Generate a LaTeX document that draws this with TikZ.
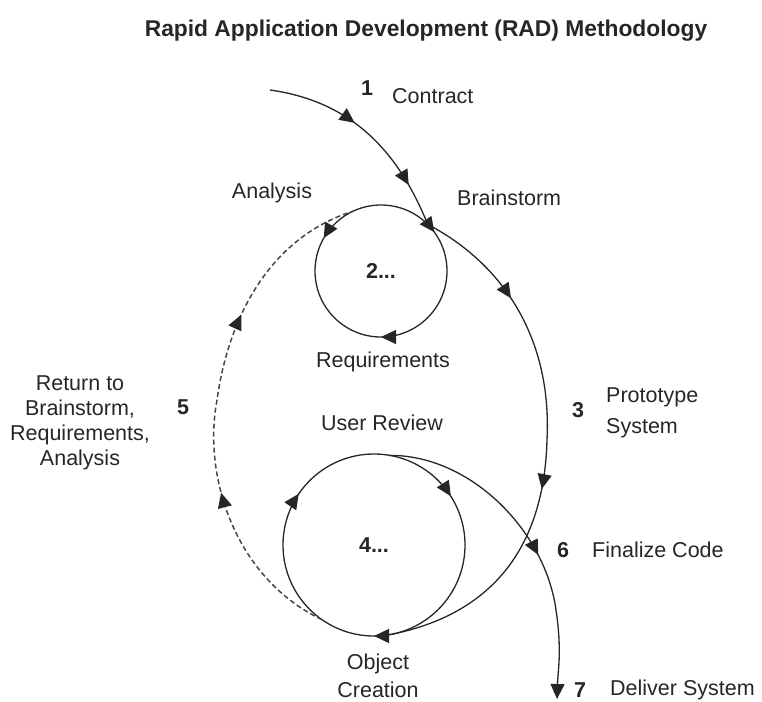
\documentclass[tikz,border=0pt]{standalone}
\usepackage{fontspec}
\setmainfont{Liberation Sans}
\usetikzlibrary{arrows.meta,decorations.markings}

\tikzset{
  flowtip/.tip={Triangle[length=15pt,width=14pt]},
  flow/.style={line width=1.3pt, draw=black!85},
  back/.style={flow, line width=1.5pt, draw=black!72, dash pattern=on 5pt off 3pt},
  fwd/.style={postaction={decorate, decoration={markings,
      mark=at position #1 with {\arrow[black!85]{flowtip}}}}},
  rev/.style={postaction={decorate, decoration={markings,
      mark=at position #1 with {\arrowreversed[black!85]{flowtip}}}}},
  lbl/.style={font=\fontsize{21.5}{25}\selectfont, text=black!85, inner sep=0pt},
  num/.style={lbl, font=\bfseries\fontsize{21.5}{25}\selectfont},
  ring/.style={circle, inner sep=0pt, outer sep=0pt},
}

\begin{document}
\begin{tikzpicture}[x=1pt, y=1pt]
  \useasboundingbox (0,0) rectangle (762,-701);
  \node[lbl, font=\bfseries\fontsize{22.8}{26}\selectfont] (title) at (426,-31)
    {Rapid Application Development (RAD) Methodology};

  % the two cycles
  \node[ring, minimum size=132pt, num] (req) at (381,-271) {2...};
  \node[ring, minimum size=182pt, num] (obj) at (374,-545) {4...};
  \draw[flow, rev=0.1, fwd=0.417, rev=0.75] (req.center) circle[radius=66pt];
  \draw[flow, rev=0.09, rev=0.405, rev=0.75] (obj.center) circle[radius=91pt];

  % connectors
  \coordinate (entry) at (270,-90);
  \coordinate (deliver) at (557,-699);
  \draw[flow, fwd=0.42, fwd=0.8] (entry) to[out=-8, in=112] (req.45);
  \draw[flow, fwd=0.21, fwd=0.58] (req.45)
    .. controls (505,-265) and (552,-340) .. (547,-440)
    .. controls (544,-550) and (490,-615) .. (obj.-80);
  \draw[back, fwd=0.33, fwd=0.69] (obj.235)
    .. controls (238,-580) and (202,-480) .. (217,-400)
    .. controls (228,-320) and (268,-238) .. (req.115);
  \draw[flow, fwd=0.56, -{flowtip}] (obj.80)
    .. controls (470,-455) and (545,-530) .. (556,-610)
    .. controls (562,-650) and (558,-670) .. (deliver);

  % labels
  \node[num] (n1) at (367,-88) {1};
  \node[lbl, anchor=west] (contract) at (392,-96) {Contract};
  \node[lbl] (analysis) at (272,-193) {Analysis};
  \node[lbl, anchor=west] (brainstorm) at (457,-198) {Brainstorm};
  \node[lbl] (requirements) at (383,-362) {Requirements};
  \node[lbl] (review) at (382,-423) {User Review};
  \node[num] (n3) at (578,-410) {3};
  \node[lbl, anchor=west, align=left, font=\fontsize{21.5}{31}\selectfont] (proto)
    at (606,-413) {Prototype\\System};
  \node[num] (n5) at (183,-407) {5};
  \node[lbl, align=center] (return) at (80,-423)
    {Return to\\Brainstorm,\\Requirements,\\Analysis};
  \node[num] (n6) at (563,-550) {6};
  \node[lbl, anchor=west] (finalize) at (592,-550) {Finalize Code};
  \node[lbl, align=center, font=\fontsize{21.5}{28}\selectfont] (creation)
    at (378,-676) {Object\\Creation};
  \node[num] (n7) at (580,-690) {7};
  \node[lbl, anchor=west] (system) at (610,-690) {Deliver System};
\end{tikzpicture}
\end{document}
